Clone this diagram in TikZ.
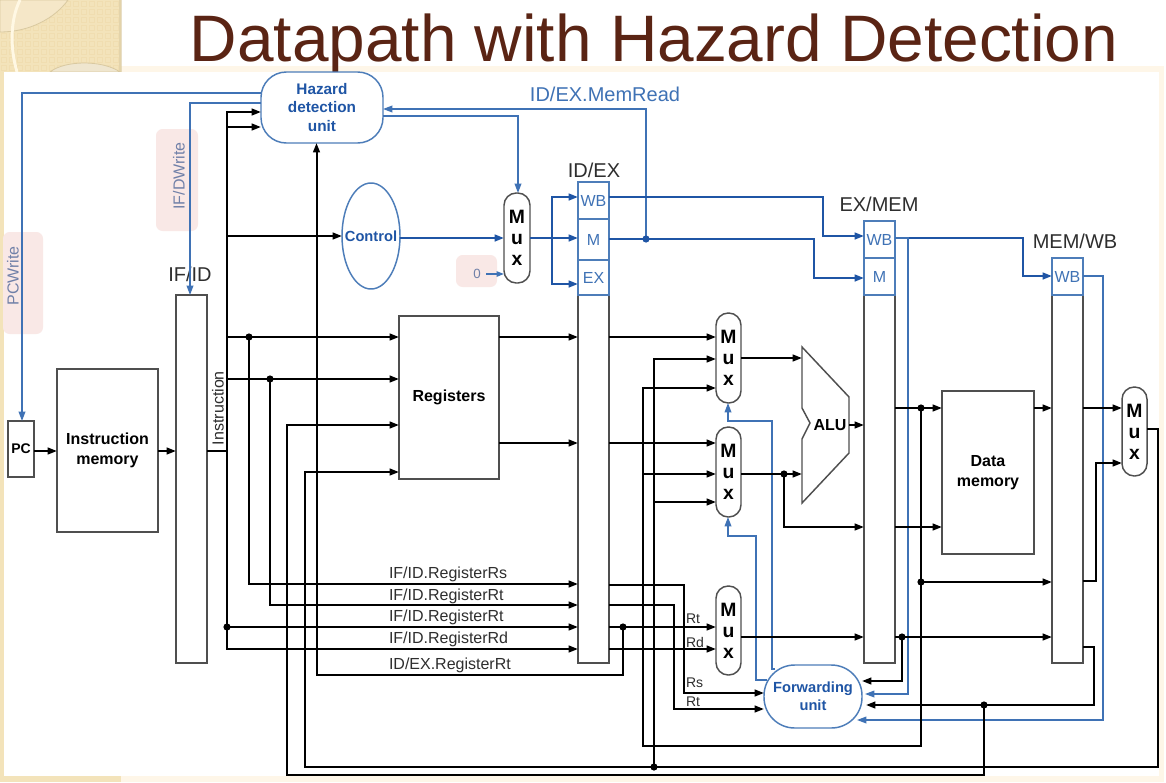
\documentclass[tikz,border=0pt]{standalone}
\usepackage{fontspec}
\setmainfont{Liberation Sans}
\usetikzlibrary{arrows.meta,shapes.geometric}
\definecolor{cream}{HTML}{FEF6E8}
\definecolor{strip}{HTML}{F3E3BA}
\definecolor{striptile}{HTML}{F0DDB0}
\definecolor{stripcircle}{HTML}{F5E7C8}
\definecolor{stripcircleb}{HTML}{EFE6CF}
\definecolor{stripedge}{HTML}{D9C9A0}
\definecolor{stripline}{HTML}{FFF8E4}
\definecolor{titlebrown}{HTML}{5A2414}
\definecolor{pinkbg}{HTML}{F9E8E6}
\definecolor{bluethick}{HTML}{1F55A5}
\definecolor{bluethin}{HTML}{3F72B5}
\definecolor{blueedge}{HTML}{4D7DB9}
\definecolor{greyblue}{HTML}{7080A8}
\definecolor{edgegrey}{HTML}{4F4F4F}
\definecolor{labelgrey}{HTML}{2E2E2E}
\newcommand{\blk}[7]{%
  \pgfmathsetmacro\blkX{(#3+#5)/2}\pgfmathsetmacro\blkY{(#4+#6)/2}%
  \pgfmathsetmacro\blkW{(#5-#3)*0.75}\pgfmathsetmacro\blkH{(#6-#4)*0.75}%
  \node[#2,minimum width=\blkW pt,minimum height=\blkH pt] (#1) at (\blkX,\blkY) {#7};}
\tikzset{
  base/.style={inner sep=0pt,outer sep=0pt,align=center},
  pinkbox/.style={base,fill=pinkbg,rounded corners=5pt},
  unitbox/.style={base,draw=edgegrey,line width=1.1pt,fill=white,text=black,font=\fontsize{12}{14.5}\selectfont\bfseries},
  pipebody/.style={base,draw=edgegrey,line width=1.1pt,fill=white},
  pipehead/.style={base,draw=blueedge,line width=1.1pt,fill=white,text=bluethin,font=\fontsize{12}{14}\selectfont},
  muxbox/.style={base,draw=edgegrey,line width=1.1pt,fill=white,rounded corners=9.2pt,text=black,font=\fontsize{14.5}{15.7}\selectfont\bfseries},
  blueunit/.style={base,draw=blueedge,line width=1.1pt,fill=white,text=bluethick,font=\fontsize{11.5}{14.2}\selectfont\bfseries},
  pipelabel/.style={base,text=labelgrey,font=\fontsize{15}{17}\selectfont},
  sig/.style={base,anchor=west,text=labelgrey,font=\fontsize{12}{14}\selectfont},
  smallsig/.style={base,anchor=west,text=labelgrey,font=\fontsize{10.5}{12}\selectfont},
  pinktext/.style={base,text=greyblue,rotate=90,font=\fontsize{12}{14}\selectfont},
  wire/.style={draw=black,line width=1.5pt},
  thickblue/.style={draw=bluethick,line width=1.6pt},
  thinblue/.style={draw=bluethin,line width=1.05pt},
  arr/.style={-{Triangle[length=7pt,width=5pt]}},
  dot/.style={circle,fill=black,inner sep=0pt,minimum size=5.4pt},
  bdot/.style={circle,fill=bluethick,inner sep=0pt,minimum size=5.4pt}
}
\begin{document}
\begin{tikzpicture}[x=0.75pt,y=-0.75pt]
\useasboundingbox (0,0) rectangle (1166,782);
% slide background
\fill[white] (0,0) rectangle (1166,782);
\fill[cream] (121,66) rectangle (1164,782);
\fill[strip] (0,0) rectangle (121,72);
\foreach \tx in {1,9,...,113}{\foreach \ty in {1,9,...,65}{
  \draw[striptile,line width=.6pt] (\tx,\ty) rectangle ++(5,5);}}
\fill[stripedge,opacity=.6] (118.5,0) rectangle (121.5,72);
\fill[strip] (0,72) rectangle (4,782);
\fill[strip] (0,776) rectangle (121,782);
\draw[stripedge,line width=.6pt,fill=stripcircle] (0,32) .. controls (30,32) and (55,18) .. (68,0) -- (0,0) -- cycle;
\draw[stripedge,line width=.6pt,fill=stripcircleb] (50,72) .. controls (65,60) and (103,60) .. (120,72) -- cycle;
\draw[stripline,line width=2.2pt] (20,0) .. controls (10,20) and (10,48) .. (17,72);
% title
\node[base,anchor=base,text=titlebrown,font=\fontsize{49.3}{55}\selectfont] (title) at (654,61) {Datapath with Hazard Detection};
% panel
\fill[white] (4,72) rectangle (1159,776);
% pink notes
\blk{pinkA}{pinkbox}{3}{232}{43}{334}{}
\blk{pinkB}{pinkbox}{156}{129}{198}{231}{}
\blk{pinkC}{pinkbox}{456}{255}{497}{287}{}
\node[pinktext] (pcwrite) at (13,276) {PCWrite};
\node[pinktext] (ifdwrite) at (179,176) {IF/DWrite};
\node[base,text=greyblue,font=\fontsize{10}{12}\selectfont] (zero) at (477,274) {0};
% blocks
\blk{pc}{unitbox,font=\fontsize{10.5}{12}\selectfont\bfseries}{8}{421}{34}{477}{PC}
\blk{imem}{unitbox}{57}{369}{158}{532}{Instruction\\memory}
\blk{ifid}{pipebody}{176}{295}{207}{663}{}
\blk{regs}{unitbox}{399}{316}{499}{479}{Registers}
\blk{dmem}{unitbox}{942}{391}{1034}{554}{Data\\memory}
\blk{idexbody}{pipebody}{578}{295}{609}{663}{}
\blk{idexWB}{pipehead}{578}{182}{609}{219}{WB}
\blk{idexM}{pipehead}{578}{219}{609}{260}{M}
\blk{idexEX}{pipehead}{578}{260}{609}{295}{EX}
\blk{exmembody}{pipebody}{864}{295}{895}{663}{}
\blk{exmemWB}{pipehead}{864}{221}{895}{258}{WB}
\blk{exmemM}{pipehead}{864}{258}{895}{295}{M}
\blk{memwbbody}{pipebody}{1052}{295}{1083}{663}{}
\blk{memwbWB}{pipehead}{1052}{258}{1083}{295}{WB}
\blk{hazard}{blueunit,rounded corners=19pt}{261}{72}{383}{143}{Hazard\\detection\\unit}
\blk{fwd}{blueunit,rounded corners=23pt,font=\fontsize{11}{13.2}\selectfont\bfseries}{764}{665}{862}{728}{Forwarding\\unit}
\node[base,draw=blueedge,line width=1.1pt,fill=white,ellipse,minimum width=43.5pt,minimum height=79.5pt,text=bluethick,font=\fontsize{11}{13}\selectfont\bfseries] (control) at (371,236) {\makebox[0pt][c]{Control}};
\blk{muxC}{muxbox}{504}{193}{530}{283}{M\\u\\x}
\blk{muxA}{muxbox}{716}{313}{741}{403}{M\\u\\x}
\blk{muxB}{muxbox}{716}{427}{741}{517}{M\\u\\x}
\blk{muxD}{muxbox}{716}{586}{741}{675}{M\\u\\x}
\blk{muxW}{muxbox}{1122}{387}{1147}{476}{M\\u\\x}
\draw[edgegrey,line width=1.1pt,fill=white] (802,347) -- (849,397) -- (849,453) -- (802,503) -- (802,439) -- (810,423) -- (802,408) -- cycle;
\node[base,font=\fontsize{12}{14}\selectfont\bfseries] (alu) at (830,425) {ALU};
% labels
\node[pipelabel] (lbIFID) at (190,274) {IF/ID};
\node[pipelabel] (lbIDEX) at (594,170) {ID/EX};
\node[pipelabel] (lbEXMEM) at (879,204) {EX/MEM};
\node[pipelabel] (lbMEMWB) at (1075,241) {MEM/WB};
\node[base,text=bluethin,font=\fontsize{15}{17}\selectfont] (lbRead) at (605,94) {ID/EX.MemRead};
\node[sig,rotate=90,anchor=west] (lbInstr) at (218,445) {Instruction};
\node[sig] (s1) at (389,574) {IF/ID.RegisterRs};
\node[sig] (s2) at (389,596) {IF/ID.RegisterRt};
\node[sig] (s3) at (389,617) {IF/ID.RegisterRt};
\node[sig] (s4) at (389,639) {IF/ID.RegisterRd};
\node[sig] (s5) at (389,665) {ID/EX.RegisterRt};
\node[smallsig] (rt1) at (686,619) {Rt};
\node[smallsig] (rd1) at (686,642) {Rd};
\node[smallsig] (rs2) at (686,683) {Rs};
\node[smallsig] (rt2) at (686,702) {Rt};
% junctions
\coordinate (busI) at (227,451);
\coordinate (busRs) at (249,337);
\coordinate (busRt) at (270,379);
\coordinate (busRd) at (227,627);
\coordinate (jLoad) at (623,627);
\coordinate (jRead) at (646,239);
\coordinate (jALU) at (784,474);
\coordinate (jAddr) at (921,408);
\coordinate (jAddr2) at (921,582);
\coordinate (jDst) at (902,637);
\coordinate (jWrite) at (984,705);
\coordinate (jWB) at (654,767);
% blue connectors
\draw[thinblue,arr] (hazard.west |- 0,93) -- (22,93) -- (pc.north -| 22,0);
\draw[thinblue,arr] (hazard.west |- 0,103) -- (190,103) -- (ifid.north -| 190,0);
\draw[thinblue,arr] (hazard.east |- 0,116) -- (518,116) -- (muxC.north -| 518,0);
\draw[thinblue,arr] (jRead) -- (646,109) -- (hazard.east |- 0,109);
\draw[thinblue,-{Triangle[length=5.5pt,width=4pt]}] (486,274) -- (muxC.west |- 0,274);
\draw[thickblue,arr] (control.east |- 0,238) -- (muxC.west |- 0,238);
\draw[thickblue,arr] (muxC.east |- 0,238) -- (idexM.west |- 0,238);
\draw[thickblue,arr] (552,238) -- (552,197) -- (idexWB.west |- 0,197);
\draw[thickblue,arr] (552,238) -- (552,284) -- (idexEX.west |- 0,284);
\draw[thickblue,arr] (idexWB.east |- 0,197) -- (823,197) -- (823,236) -- (exmemWB.west |- 0,236);
\draw[thickblue] (idexM.east |- 0,239) -- (jRead);
\draw[thickblue,arr] (jRead) -- (814,239) -- (814,278) -- (exmemM.west |- 0,278);
\draw[thickblue,arr] (exmemWB.east |- 0,238) -- (1023,238) -- (1023,276) -- (memwbWB.west |- 0,276);
\draw[thinblue,arr] (exmemWB.east |- 0,238) -- (908,238) -- (908,694) -- (865,694);
\draw[thinblue,arr] (memwbWB.east |- 0,276) -- (1103,276) -- (1103,720) -- (857,720);
\draw[thinblue,arr] (767,680) -- (756,680) -- (756,536) -- (728,536) -- (muxB.south -| 728,0);
\draw[thinblue,arr] (775,669) -- (772,669) -- (772,421) -- (728,421) -- (muxA.south -| 728,0);
\node[bdot] (dRead) at (jRead) {};
% black connectors
\draw[wire,arr] (pc.east |- 0,451) -- (imem.west |- 0,451);
\draw[wire,arr] (imem.east |- 0,451) -- (ifid.west |- 0,451);
\draw[wire] (ifid.east |- 0,451) -- (busI);
\draw[wire,arr] (busI) -- (227,112) -- (hazard.west |- 0,112);
\draw[wire,arr] (227,127) -- (hazard.west |- 0,127);
\draw[wire,arr] (227,236) -- (control.west);
\draw[wire,arr] (227,337) -- (regs.west |- 0,337);
\draw[wire,arr] (227,379) -- (regs.west |- 0,379);
\draw[wire,arr] (busRs) -- (249,584) -- (idexbody.west |- 0,584);
\draw[wire,arr] (busRt) -- (270,605) -- (idexbody.west |- 0,605);
\draw[wire,arr] (busI) -- (227,649) -- (idexbody.west |- 0,649);
\draw[wire,arr] (busRd) -- (idexbody.west |- 0,627);
\draw[wire,arr] (jLoad) -- (623,675) -- (316.5,675) -- (hazard.south -| 316.5,0);
\draw[wire,arr] (regs.east |- 0,337) -- (idexbody.west |- 0,337);
\draw[wire,arr] (regs.east |- 0,443) -- (idexbody.west |- 0,443);
\draw[wire,arr] (idexbody.east |- 0,337) -- (muxA.west |- 0,337);
\draw[wire,arr] (idexbody.east |- 0,443) -- (muxB.west |- 0,443);
\draw[wire,arr] (idexbody.east |- 0,627) -- (muxD.west |- 0,627);
\draw[wire,arr] (idexbody.east |- 0,649) -- (muxD.west |- 0,649);
\draw[wire,arr] (idexbody.east |- 0,585) -- (684,585) -- (684,693) -- (fwd.west |- 0,693);
\draw[wire,arr] (idexbody.east |- 0,605) -- (674,605) -- (674,709) -- (fwd.west |- 0,709);
% write-back and forwarded paths
\draw[wire,arr] (jWrite) -- (984,775) -- (287,775) -- (287,425) -- (regs.west |- 0,425);
\draw[wire,arr] (muxW.east |- 0,429) -- (1158,429) -- (1158,767) -- (305,767) -- (305,472) -- (regs.west |- 0,472);
\draw[wire,arr] (jWB) -- (654,359) -- (muxA.west |- 0,359);
\draw[wire,arr] (654,502) -- (muxB.west |- 0,502);
\draw[wire,arr] (jAddr) -- (921,746) -- (643,746) -- (643,388) -- (muxA.west |- 0,388);
\draw[wire,arr] (643,474) -- (muxB.west |- 0,474);
\draw[wire,arr] (muxA.east |- 0,358) -- (802,358);
\draw[wire,arr] (muxB.east |- 0,474) -- (802,474);
\draw[wire,arr] (jALU) -- (784,527) -- (exmembody.west |- 0,527);
\draw[wire,arr] (849,425) -- (exmembody.west |- 0,425);
\draw[wire,arr] (exmembody.east |- 0,408) -- (dmem.west |- 0,408);
\draw[wire,arr] (exmembody.east |- 0,527) -- (dmem.west |- 0,527);
\draw[wire,arr] (dmem.east |- 0,408) -- (memwbbody.west |- 0,408);
\draw[wire,arr] (jAddr2) -- (memwbbody.west |- 0,582);
\draw[wire,arr] (memwbbody.east |- 0,408) -- (muxW.west |- 0,408);
\draw[wire,arr] (memwbbody.east |- 0,581) -- (1096,581) -- (1096,463) -- (muxW.west |- 0,463);
\draw[wire,arr] (muxD.east |- 0,637) -- (exmembody.west |- 0,637);
\draw[wire,arr] (exmembody.east |- 0,637) -- (memwbbody.west |- 0,637);
\draw[wire,arr] (jDst) -- (902,681) -- (fwd.east |- 0,681);
\draw[wire,arr] (memwbbody.east |- 0,647) -- (1094,647) -- (1094,705) -- (866,705);
% dots
\node[dot] (d1) at (busRs) {};
\node[dot] (d2) at (busRt) {};
\node[dot] (d3) at (busRd) {};
\node[dot] (d4) at (jLoad) {};
\node[dot] (d5) at (jALU) {};
\node[dot] (d6) at (jAddr) {};
\node[dot] (d7) at (jAddr2) {};
\node[dot] (d8) at (jDst) {};
\node[dot] (d9) at (jWrite) {};
\node[dot] (d10) at (jWB) {};
\end{tikzpicture}
\end{document}
